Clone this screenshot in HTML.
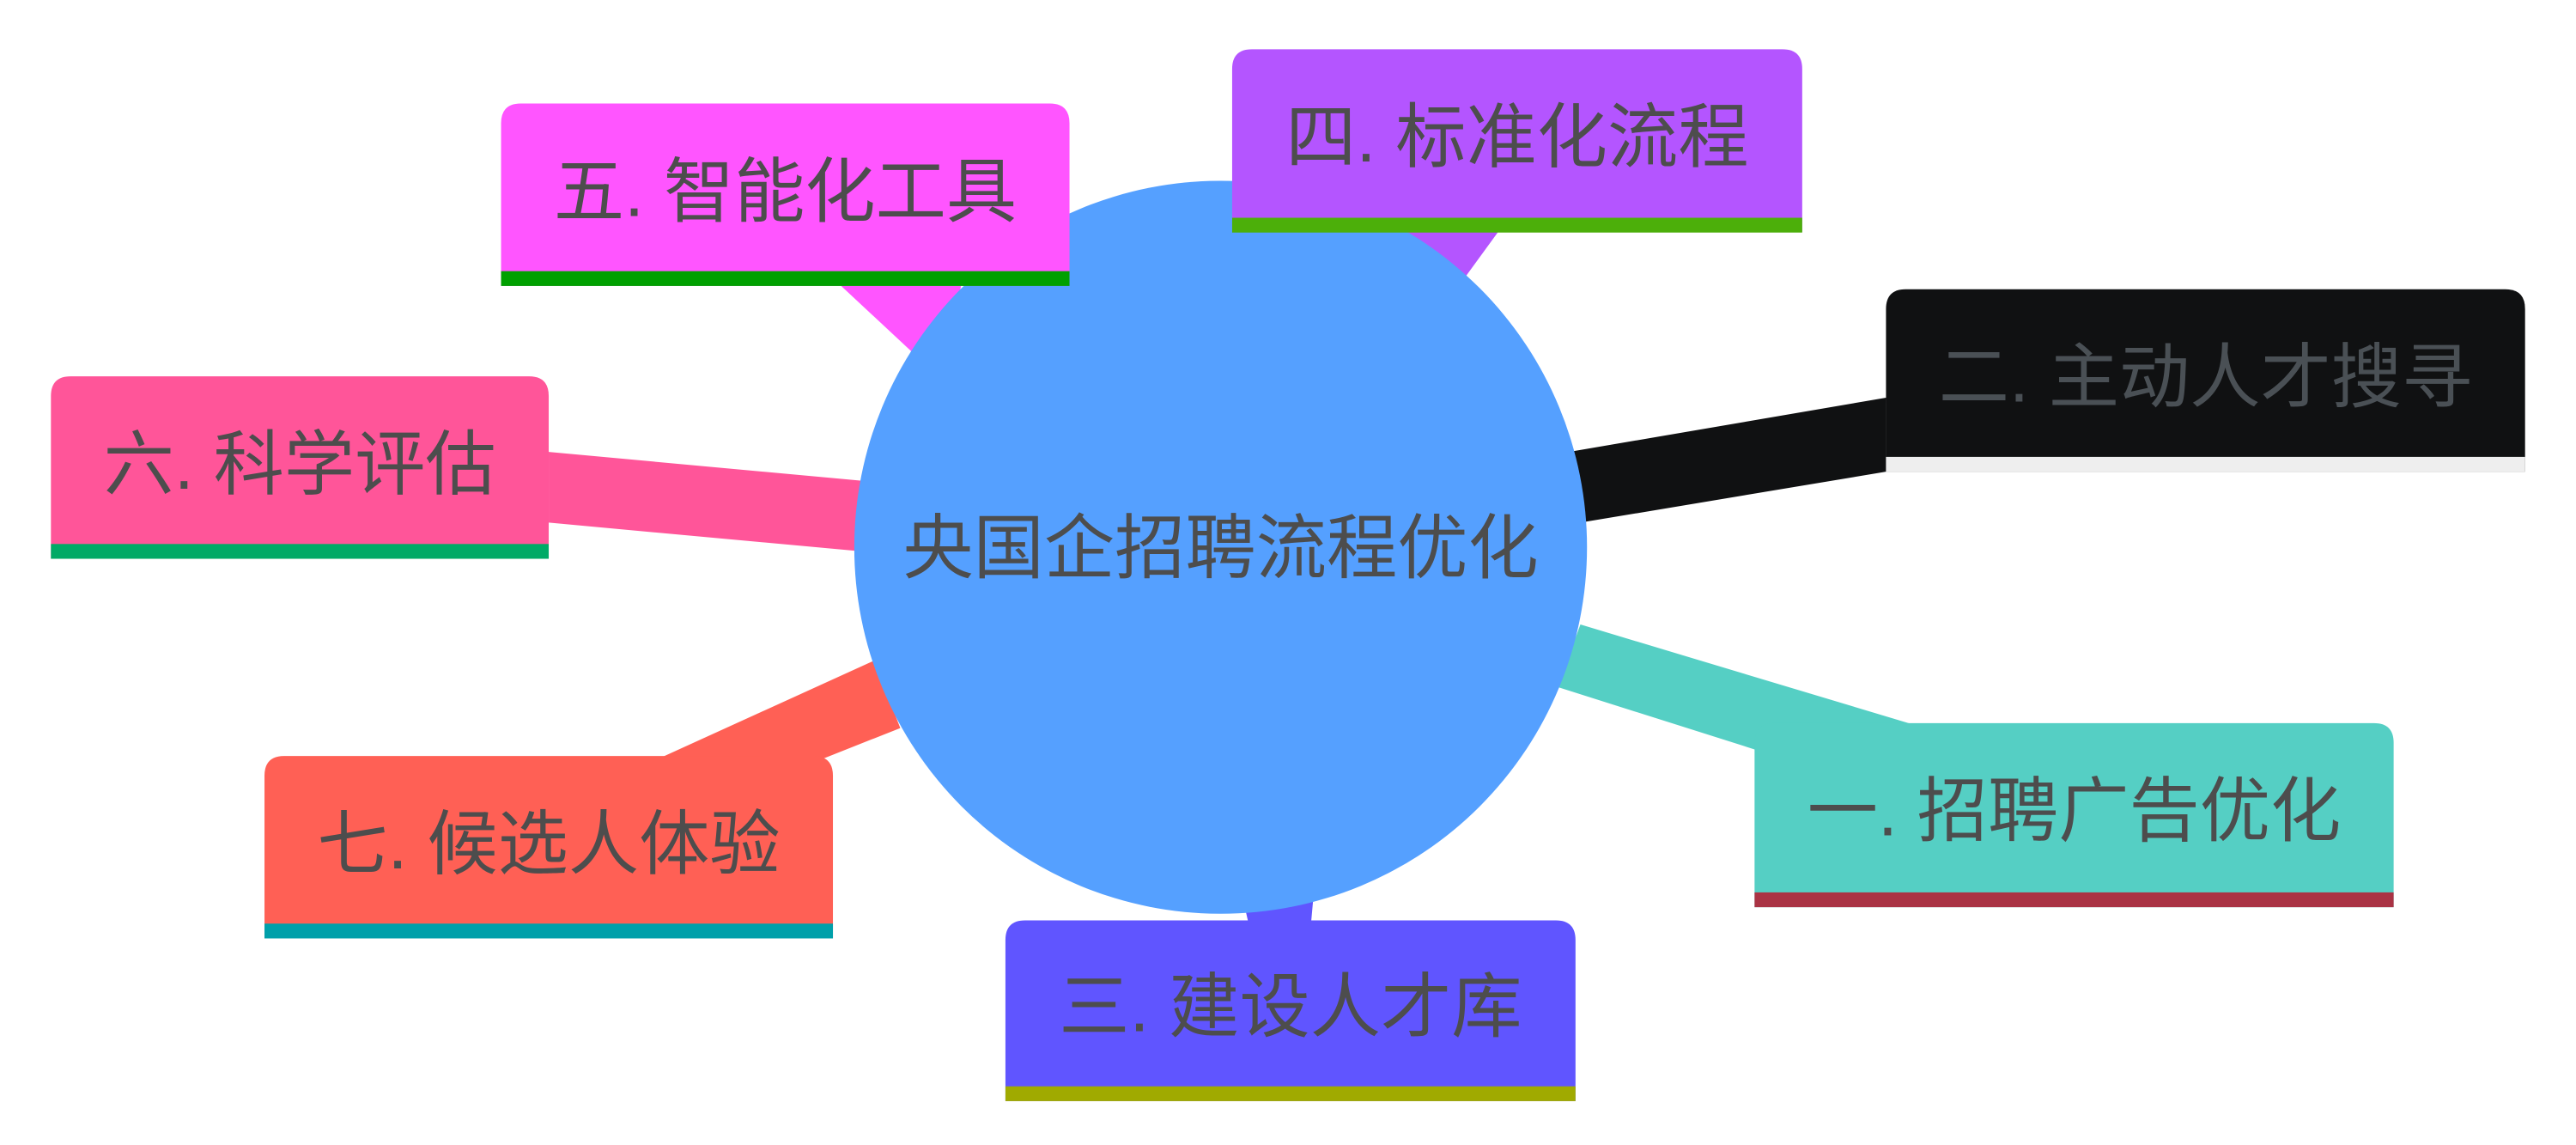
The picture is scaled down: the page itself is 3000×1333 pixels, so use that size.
<!DOCTYPE html>
<html><head><meta charset="utf-8"><style>
html,body{margin:0;padding:0;background:#fff;}
svg{display:block;}
text{font-family:"Liberation Sans","Noto Sans CJK SC",sans-serif;font-size:43px;fill:#4d4d4d;text-anchor:middle;dominant-baseline:central;}
</style></head><body>
<svg width="3000" height="1333" viewBox="0 0 1568 696.7" preserveAspectRatio="none" xmlns="http://www.w3.org/2000/svg">
<polygon points="850,141 912,141 885,178 840,165" fill="#b455ff"/>
<polygon points="512,174 585,174 575,220 555,214" fill="#ff55ff"/>
<polygon points="334,275 530,293 530,336 334,318" fill="#ff5599"/>
<polygon points="1148,242 1148,287 962,318 955,275" fill="#101112"/>
<polygon points="962,380 1165,441 1068,456 948,418" fill="#55cfc4"/>
<polygon points="532,402 548,443 500,462 400,462" fill="#ff6055"/>
<polygon points="755,540 800,540 798,562 760,562" fill="#6055ff"/>
<circle cx="743" cy="333" r="223" fill="#55a0ff"/>
<text x="743" y="334">央国企招聘流程优化</text>
<g>
<path d="M750,141 V42 Q750,30 762,30 H1085 Q1097,30 1097,42 V141 Z" fill="#b455ff"/>
<rect x="750" y="132.5" width="347" height="9" fill="#4caf0a"/>
<text x="923.5" y="84">四. 标准化流程</text>
</g>
<g>
<path d="M305,174 V75 Q305,63 317,63 H639 Q651,63 651,75 V174 Z" fill="#ff55ff"/>
<rect x="305" y="165" width="346" height="9" fill="#00a000"/>
<text x="478" y="117">五. 智能化工具</text>
</g>
<g>
<path d="M1148,287 V188 Q1148,176 1160,176 H1525 Q1537,176 1537,188 V287 Z" fill="#101112"/>
<rect x="1148" y="278" width="389" height="9" fill="#eeeeee"/>
<text x="1342.5" y="230" style="fill:#4a5055">二. 主动人才搜寻</text>
</g>
<g>
<path d="M31,340 V241 Q31,229 43,229 H322 Q334,229 334,241 V340 Z" fill="#ff5599"/>
<rect x="31" y="331" width="303" height="9" fill="#00aa66"/>
<text x="182.5" y="283">六. 科学评估</text>
</g>
<g>
<path d="M1068,552 V452 Q1068,440 1080,440 H1445 Q1457,440 1457,452 V552 Z" fill="#55cfc4"/>
<rect x="1068" y="543" width="389" height="9" fill="#aa3344"/>
<text x="1262.5" y="494">一. 招聘广告优化</text>
</g>
<g>
<path d="M161,571 V472 Q161,460 173,460 H495 Q507,460 507,472 V571 Z" fill="#ff6055"/>
<rect x="161" y="562" width="346" height="9" fill="#00a0aa"/>
<text x="334" y="514">七. 候选人体验</text>
</g>
<g>
<path d="M612,670 V572 Q612,560 624,560 H947 Q959,560 959,572 V670 Z" fill="#6055ff"/>
<rect x="612" y="661" width="347" height="9" fill="#a0aa00"/>
<text x="785.5" y="613">三. 建设人才库</text>
</g>
</svg>
</body></html>
